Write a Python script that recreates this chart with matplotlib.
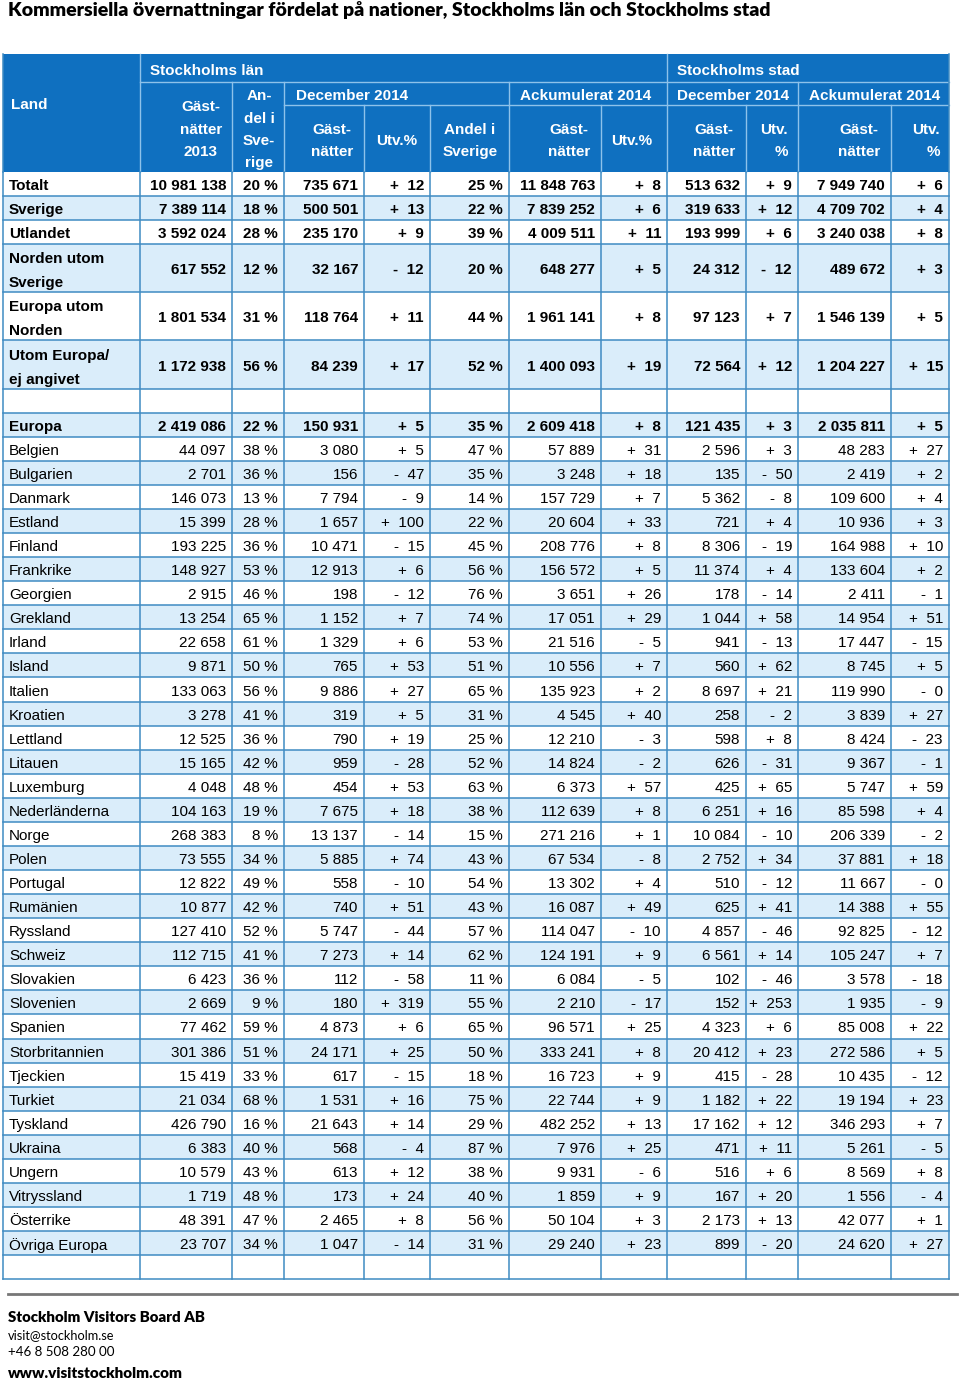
import matplotlib
matplotlib.use("Agg")
import matplotlib.pyplot as plt
from matplotlib.patches import Rectangle

# ---- data ----
land = ["Totalt", "Sverige", "Utlandet", "Norden utom\nSverige", "Europa utom\nNorden",
        "Utom Europa/\nej angivet", "Europa",
        "Belgien", "Bulgarien", "Danmark", "Estland", "Finland", "Frankrike", "Georgien",
        "Grekland", "Irland", "Island", "Italien", "Kroatien", "Lettland", "Litauen",
        "Luxemburg", "Nederländerna", "Norge", "Polen", "Portugal", "Rumänien", "Ryssland",
        "Schweiz", "Slovakien", "Slovenien", "Spanien", "Storbritannien", "Tjeckien",
        "Turkiet", "Tyskland", "Ukraina", "Ungern", "Vitryssland", "Österrike", "Övriga Europa"]

lan_2013 = [10981138, 7389114, 3592024, 617552, 1801534, 1172938, 2419086,
            44097, 2701, 146073, 15399, 193225, 148927, 2915, 13254, 22658, 9871, 133063,
            3278, 12525, 15165, 4048, 104163, 268383, 73555, 12822, 10877, 127410, 112715,
            6423, 2669, 77462, 301386, 15419, 21034, 426790, 6383, 10579, 1719, 48391, 23707]
lan_andel = [20, 18, 28, 12, 31, 56, 22,
             38, 36, 13, 28, 36, 53, 46, 65, 61, 50, 56, 41, 36, 42, 48, 19, 8, 34, 49, 42,
             52, 41, 36, 9, 59, 51, 33, 68, 16, 40, 43, 48, 47, 34]
lan_dec = [735671, 500501, 235170, 32167, 118764, 84239, 150931,
           3080, 156, 7794, 1657, 10471, 12913, 198, 1152, 1329, 765, 9886, 319, 790, 959,
           454, 7675, 13137, 5885, 558, 740, 5747, 7273, 112, 180, 4873, 24171, 617, 1531,
           21643, 568, 613, 173, 2465, 1047]
lan_dec_utv = ["+ 12", "+ 13", "+ 9", "- 12", "+ 11", "+ 17", "+ 5",
               "+ 5", "- 47", "- 9", "+ 100", "- 15", "+ 6", "- 12", "+ 7", "+ 6", "+ 53",
               "+ 27", "+ 5", "+ 19", "- 28", "+ 53", "+ 18", "- 14", "+ 74", "- 10", "+ 51",
               "- 44", "+ 14", "- 58", "+ 319", "+ 6", "+ 25", "- 15", "+ 16", "+ 14", "- 4",
               "+ 12", "+ 24", "+ 8", "- 14"]
lan_dec_andel = [25, 22, 39, 20, 44, 52, 35,
                 47, 35, 14, 22, 45, 56, 76, 74, 53, 51, 65, 31, 25, 52, 63, 38, 15, 43, 54,
                 43, 57, 62, 11, 55, 65, 50, 18, 75, 29, 87, 38, 40, 56, 31]
lan_ack = [11848763, 7839252, 4009511, 648277, 1961141, 1400093, 2609418,
           57889, 3248, 157729, 20604, 208776, 156572, 3651, 17051, 21516, 10556, 135923,
           4545, 12210, 14824, 6373, 112639, 271216, 67534, 13302, 16087, 114047, 124191,
           6084, 2210, 96571, 333241, 16723, 22744, 482252, 7976, 9931, 1859, 50104, 29240]
lan_ack_utv = ["+ 8", "+ 6", "+ 11", "+ 5", "+ 8", "+ 19", "+ 8",
               "+ 31", "+ 18", "+ 7", "+ 33", "+ 8", "+ 5", "+ 26", "+ 29", "- 5", "+ 7",
               "+ 2", "+ 40", "- 3", "- 2", "+ 57", "+ 8", "+ 1", "- 8", "+ 4", "+ 49",
               "- 10", "+ 9", "- 5", "- 17", "+ 25", "+ 8", "+ 9", "+ 9", "+ 13", "+ 25",
               "- 6", "+ 9", "+ 3", "+ 23"]
stad_dec = [513632, 319633, 193999, 24312, 97123, 72564, 121435,
            2596, 135, 5362, 721, 8306, 11374, 178, 1044, 941, 560, 8697, 258, 598, 626,
            425, 6251, 10084, 2752, 510, 625, 4857, 6561, 102, 152, 4323, 20412, 415, 1182,
            17162, 471, 516, 167, 2173, 899]
stad_dec_utv = ["+ 9", "+ 12", "+ 6", "- 12", "+ 7", "+ 12", "+ 3",
                "+ 3", "- 50", "- 8", "+ 4", "- 19", "+ 4", "- 14", "+ 58", "- 13", "+ 62",
                "+ 21", "- 2", "+ 8", "- 31", "+ 65", "+ 16", "- 10", "+ 34", "- 12", "+ 41",
                "- 46", "+ 14", "- 46", "+ 253", "+ 6", "+ 23", "- 28", "+ 22", "+ 12",
                "+ 11", "+ 6", "+ 20", "+ 13", "- 20"]
stad_ack = [7949740, 4709702, 3240038, 489672, 1546139, 1204227, 2035811,
            48283, 2419, 109600, 10936, 164988, 133604, 2411, 14954, 17447, 8745, 119990,
            3839, 8424, 9367, 5747, 85598, 206339, 37881, 11667, 14388, 92825, 105247,
            3578, 1935, 85008, 272586, 10435, 19194, 346293, 5261, 8569, 1556, 42077, 24620]
stad_ack_utv = ["+ 6", "+ 4", "+ 8", "+ 3", "+ 5", "+ 15", "+ 5",
                "+ 27", "+ 2", "+ 4", "+ 3", "+ 10", "+ 2", "- 1", "+ 51", "- 15", "+ 5",
                "- 0", "+ 27", "- 23", "- 1", "+ 59", "+ 4", "- 2", "+ 18", "- 0", "+ 55",
                "- 12", "+ 7", "- 18", "- 9", "+ 22", "+ 5", "- 12", "+ 23", "+ 7", "- 5",
                "+ 8", "- 4", "+ 1", "+ 27"]

title = "Kommersiella övernattningar fördelat på nationer, Stockholms län och Stockholms stad"
footer = ["Stockholm Visitors Board AB", "visit@stockholm.se", "+46 8 508 280 00",
          "www.visitstockholm.com"]


def num(v):
    return f"{v:,}".replace(",", " ")


def pct(v):
    return f"{v} %"


def utv(s):
    return s.replace(" ", "  ")


columns = [
    (lan_2013, num), (lan_andel, pct), (lan_dec, num), (lan_dec_utv, utv),
    (lan_dec_andel, pct), (lan_ack, num), (lan_ack_utv, utv), (stad_dec, num),
    (stad_dec_utv, utv), (stad_ack, num), (stad_ack_utv, utv),
]

# ---- layout ----
HEAD = "#0F70C0"
LIGHT = "#DAEDFA"
LINE = "#3F8BC2"
HLINE = "#8EC2EA"
FONT = "Liberation Sans"
DY = 2  # nudge text down to sit like the original

xs = [3, 140, 232, 284, 364, 430, 509, 601, 667, 746, 798, 891, 949]
top, head_bot, rh = 54, 172, 24.07

plt.rcParams["font.family"] = [FONT, "DejaVu Sans"]
fig = plt.figure(figsize=(9.6, 13.8), dpi=100)
ax = fig.add_axes([0, 0, 1, 1])
ax.set_xlim(0, 960)
ax.set_ylim(1380, 0)
ax.axis("off")

ax.text(8, 10, title, fontsize=14, fontweight="heavy", family="Lato", va="center",
        ha="left", color="black")

# header block
ax.add_patch(Rectangle((xs[0], top), xs[-1] - xs[0], head_bot - top, facecolor=HEAD,
                       edgecolor="none"))
hw = dict(color=HLINE, lw=1.0)
ax.plot([xs[1], xs[-1]], [82, 82], **hw)
ax.plot([xs[3], xs[-1]], [105, 105], **hw)
for x in (xs[1], xs[8]):
    ax.plot([x, x], [top, head_bot], **hw)
for x in (xs[2], xs[3], xs[6], xs[10]):
    ax.plot([x, x], [82, head_bot], **hw)
for x in (xs[4], xs[5], xs[7], xs[9], xs[11]):
    ax.plot([x, x], [105, head_bot], **hw)

hkw = dict(color="white", fontsize=11, fontweight="bold", va="center")
ax.text(11, 103 + DY, "Land", ha="left", **hkw)
ax.text(150, 69 + DY, "Stockholms län", ha="left", **hkw)
ax.text(677, 69 + DY, "Stockholms stad", ha="left", **hkw)
ax.text(296, 94 + DY, "December 2014", ha="left", **hkw)
ax.text(520, 94 + DY, "Ackumulerat 2014", ha="left", **hkw)
ax.text(677, 94 + DY, "December 2014", ha="left", **hkw)
ax.text(809, 94 + DY, "Ackumulerat 2014", ha="left", **hkw)


def lines(x, ys, words, ha="center"):
    for y, w in zip(ys, words):
        ax.text(x, y + DY, w, ha=ha, **hkw)


lines(201, [105, 128, 150], ["Gäst-", "nätter", "2013"])
lines(259, [94, 117, 139, 161], ["An-", "del i", "Sve-", "rige"])
lines(332, [128, 150], ["Gäst-", "nätter"])
lines(397, [139], ["Utv.%"])
lines(470, [128, 150], ["Andel i", "Sverige"])
lines(569, [128, 150], ["Gäst-", "nätter"])
lines(632, [139], ["Utv.%"])
lines(714, [128, 150], ["Gäst-", "nätter"])
lines(788, [128, 150], ["Utv.", "%"], ha="right")
lines(859, [128, 150], ["Gäst-", "nätter"])
lines(940, [128, 150], ["Utv.", "%"], ha="right")

# body rows: (row index or None for blank, height units)
rows = []
for i in range(6):
    rows.append((i, 2 if "\n" in land[i] else 1))
rows.append((None, 1))
for i in range(6, len(land)):
    rows.append((i, 1))
rows.append((None, 1))

y = head_bot
for i, n in rows:
    h = n * rh
    if i is not None and (i in (1, 3, 5, 6) or (i > 6 and (i - 7) % 2 == 1)):
        ax.add_patch(Rectangle((xs[0], y), xs[-1] - xs[0], h, facecolor=LIGHT,
                               edgecolor="none"))
    if i is not None:
        bold = i <= 6
        kw = dict(fontsize=11, fontweight="bold" if bold else "normal", va="center",
                  color="black")
        name = land[i].split("\n")
        if len(name) == 1:
            ax.text(9, y + h / 2 + DY, name[0], ha="left", **kw)
        else:
            ax.text(9, y + rh / 2 + 1 + DY, name[0], ha="left", **kw)
            ax.text(9, y + rh * 1.5 + 1 + DY, name[1], ha="left", **kw)
        for c, (vals, fmt) in enumerate(columns):
            ax.text(xs[c + 2] - 6, y + h / 2 + DY, fmt(vals[i]), ha="right", **kw)
    ax.plot([xs[0], xs[-1]], [y + h, y + h], color=LINE, lw=1.1)
    y += h

bottom = y
for x in xs:
    ax.plot([x, x], [head_bot, bottom], color=LINE, lw=1.1)
ax.plot([xs[0], xs[0]], [top, head_bot], color=LINE, lw=1.1)
ax.plot([xs[-1], xs[-1]], [top, head_bot], color=LINE, lw=1.1)

# footer
ax.plot([8, 957], [1294, 1294], color="#777777", lw=2)
ax.text(8, 1317, footer[0], fontsize=10.8, fontweight="heavy", family="Lato", va="center")
ax.text(8, 1335, footer[1], fontsize=9.2, family="Lato", va="center")
ax.text(8, 1352, footer[2], fontsize=9.6, family="Lato", va="center")
ax.text(8, 1373, footer[3], fontsize=11, fontweight="heavy", family="Lato", va="center")

fig.savefig("out.png", dpi=100)
